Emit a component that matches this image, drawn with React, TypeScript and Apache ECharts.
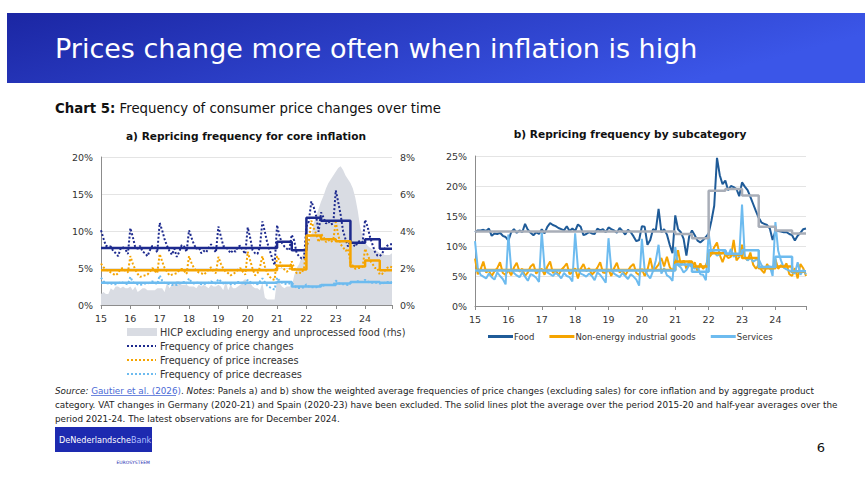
import React, { useEffect, useRef } from "react";
import * as echarts from "echarts";

// ---- shared time axis: monthly observations Jan 2015 .. Dec 2024 ----
const X_START = 15;
const X_END = 15 + 119 / 12;
const YEAR_TICKS = [15, 16, 17, 18, 19, 20, 21, 22, 23, 24];
// period starts for the average lines: 2015-20, then half-years 2021-24
const STEP_STARTS = [15, 21, 21.5, 22, 22.5, 23, 23.5, 24, 24.5];

// ---- panel a) frequencies for core inflation (%) ----
const priceChanges = [
  10.1, 9.0, 8.0, 7.9, 7.9, 7.3, 7.0, 6.6, 7.6, 7.8, 7.5, 6.9,
  10.4, 9.2, 7.8, 7.6, 8.0, 7.2, 7.0, 6.6, 7.4, 8.0, 7.8, 7.1,
  11.1, 10.1, 8.9, 8.0, 7.3, 6.8, 7.6, 6.5, 7.2, 8.1, 7.9, 7.2,
  10.1, 9.1, 8.2, 7.6, 7.8, 7.0, 7.3, 7.1, 7.7, 8.2, 7.6, 7.1,
  10.6, 9.3, 8.0, 7.8, 7.5, 7.0, 7.4, 7.2, 7.9, 8.0, 7.4, 6.9,
  10.5, 9.1, 7.4, 7.0, 6.9, 7.9, 11.3, 9.9, 8.4, 7.4, 6.3, 5.4,
  10.8, 9.3, 8.4, 7.9, 7.6, 7.4, 9.5, 8.7, 7.0, 6.6, 6.3, 6.3,
  10.6, 11.3, 14.0, 13.2, 12.0, 9.9, 12.5, 11.8, 11.0, 11.3, 10.9, 11.0,
  15.5, 13.9, 12.2, 10.0, 8.9, 7.9, 8.6, 8.2, 7.9, 8.5, 8.7, 8.5,
  11.5, 10.6, 9.2, 8.2, 7.2, 6.7, 6.6, 7.0, 7.6, 8.0, 8.2, 8.2,
];
const priceIncreases = [
  5.6, 5.1, 4.8, 4.6, 4.4, 4.2, 4.0, 4.3, 4.9, 5.0, 4.6, 4.4,
  6.6, 5.6, 4.8, 4.2, 3.8, 3.9, 4.0, 4.1, 4.5, 5.0, 4.6, 4.3,
  6.9, 5.9, 5.0, 4.5, 4.0, 4.1, 4.2, 4.3, 4.7, 4.9, 4.6, 4.2,
  6.6, 5.7, 5.0, 4.6, 4.4, 4.3, 4.1, 4.4, 4.8, 5.1, 4.6, 4.3,
  6.5, 5.6, 4.9, 4.5, 4.3, 4.0, 4.2, 4.4, 4.8, 5.0, 4.5, 4.1,
  7.2, 6.0, 4.9, 4.0, 4.3, 5.1, 6.6, 5.2, 4.3, 3.8, 3.5, 3.4,
  6.6, 6.0, 5.2, 4.8, 4.5, 4.7, 5.9, 5.0, 4.3, 4.4, 4.3, 4.9,
  7.8, 8.7, 11.4, 10.4, 9.6, 8.5, 9.6, 9.2, 8.5, 8.8, 8.5, 8.8,
  11.2, 9.5, 8.2, 7.8, 7.3, 7.6, 5.8, 5.3, 4.9, 5.0, 5.0, 5.2,
  7.6, 6.8, 6.0, 5.6, 5.0, 5.0, 4.1, 4.2, 4.6, 5.0, 5.2, 5.1,
];
const priceDecreases = [
  3.7, 3.2, 3.0, 2.9, 2.9, 2.8, 2.8, 2.9, 3.1, 3.0, 2.9, 2.8,
  3.8, 3.1, 2.9, 2.8, 2.7, 2.8, 2.9, 2.9, 3.0, 3.2, 3.0, 2.8,
  4.0, 3.3, 3.0, 2.9, 2.8, 2.7, 2.8, 2.7, 2.9, 3.0, 3.1, 2.9,
  3.6, 3.1, 2.9, 3.0, 3.0, 2.8, 2.9, 2.8, 3.0, 3.2, 3.0, 2.9,
  3.5, 3.2, 2.9, 3.0, 2.9, 2.8, 2.8, 2.9, 3.1, 3.1, 2.9, 2.8,
  3.4, 3.1, 2.9, 3.0, 2.8, 3.2, 3.6, 3.1, 2.6, 2.4, 2.2, 2.1,
  3.7, 3.3, 3.0, 2.9, 2.8, 2.9, 3.0, 2.7, 2.3, 2.3, 2.3, 2.4,
  2.8, 2.5, 2.4, 2.4, 2.4, 2.5, 2.8, 2.6, 2.7, 2.7, 2.7, 2.7,
  3.3, 3.0, 2.8, 2.8, 2.8, 2.7, 3.0, 3.1, 3.1, 3.2, 3.1, 3.1,
  3.4, 3.2, 3.0, 3.0, 3.0, 3.0, 2.9, 2.9, 3.0, 3.1, 3.0, 3.1,
];
// HICP excluding energy and unprocessed food, % y-o-y (right-hand scale)
const hicpCore = [
  0.6, 0.7, 0.6, 0.6, 0.9, 0.8, 1.0, 1.0, 0.9, 1.0, 0.9, 0.9,
  1.0, 0.8, 1.0, 0.7, 0.8, 0.9, 0.9, 0.8, 0.8, 0.8, 0.8, 0.9,
  0.9, 0.9, 0.7, 1.2, 0.9, 1.1, 1.2, 1.3, 1.3, 1.1, 1.1, 1.1,
  1.0, 1.0, 1.0, 0.9, 1.1, 1.0, 1.1, 1.0, 0.9, 1.1, 1.0, 1.0,
  1.1, 1.0, 0.8, 1.3, 0.8, 1.1, 0.9, 0.9, 1.0, 1.1, 1.3, 1.4,
  1.2, 1.2, 1.0, 0.9, 0.9, 0.8, 1.2, 0.4, 0.3, 0.3, 0.3, 0.3,
  1.4, 1.2, 1.0, 0.9, 1.0, 1.0, 1.0, 1.6, 2.0, 2.2, 2.6, 2.8,
  3.2, 3.5, 3.8, 4.4, 4.8, 5.2, 5.6, 5.9, 6.3, 6.6, 6.8, 7.0,
  7.2, 7.4, 7.5, 7.3, 7.0, 6.8, 6.6, 6.3, 5.8, 5.1, 4.2, 3.7,
  3.4, 3.2, 3.1, 3.0, 3.0, 2.9, 2.8, 2.8, 2.7, 2.7, 2.7, 2.8,
];
const avgChanges = [7.7, 8.55, 7.4, 11.8, 11.4, 11.4, 8.4, 8.9, 7.6];
const avgIncreases = [4.7, 5.3, 4.8, 9.4, 8.9, 8.6, 5.2, 6.0, 4.7];
const avgDecreases = [3.0, 3.1, 2.5, 2.5, 2.7, 2.9, 3.1, 3.1, 3.0];

// ---- panel b) frequencies by subcategory (%) ----
const food = [
  12.3, 12.6, 12.6, 12.7, 12.5, 12.9, 11.7, 12.1, 12.0, 12.2, 11.7, 11.5,
  10.9, 12.3, 12.8, 12.2, 12.6, 12.3, 13.7, 12.7, 12.2, 11.8, 12.3, 12.0,
  12.8, 12.1, 13.2, 13.8, 13.5, 13.3, 13.0, 12.8, 12.6, 13.3, 12.5, 12.9,
  12.5, 13.6, 13.2, 11.8, 12.0, 12.3, 12.1, 12.0, 12.9, 12.6, 12.8, 12.3,
  13.1, 12.8, 12.6, 12.2, 13.0, 12.5, 11.9, 12.7, 12.3, 11.6, 10.8, 11.0,
  13.3, 13.2, 10.2, 11.0, 12.8, 12.6, 16.2, 12.3, 12.8, 11.9, 10.2, 8.8,
  15.1, 12.8, 12.3, 11.2, 8.4, 11.6, 12.6, 11.8, 10.9, 10.6, 11.0, 11.5,
  12.1, 14.2, 16.7, 24.7, 21.8, 20.3, 20.9, 19.3, 20.0, 19.8, 19.5, 18.3,
  20.6, 19.9, 19.3, 18.2, 17.0, 15.8, 14.7, 13.9, 13.7, 13.5, 12.9, 11.0,
  12.5, 12.5, 12.4, 12.3, 12.3, 12.0, 11.8, 10.9, 11.7, 12.2, 12.8, 12.9,
];
const neig = [
  7.9, 5.3, 6.1, 7.4, 5.6, 5.9, 5.0, 5.8, 6.3, 7.3, 5.5, 5.2,
  6.0, 5.1, 6.4, 7.2, 5.7, 6.2, 5.0, 5.6, 6.6, 7.0, 5.4, 5.9,
  6.2, 5.2, 6.6, 7.4, 5.5, 6.0, 5.1, 6.0, 6.5, 7.1, 5.3, 5.6,
  6.3, 4.6, 6.2, 7.0, 5.8, 6.3, 5.2, 5.7, 6.4, 7.3, 5.6, 5.5,
  6.1, 5.0, 6.3, 7.2, 5.6, 6.0, 5.1, 5.9, 6.6, 7.0, 5.5, 5.2,
  6.2, 5.0, 6.0, 8.0, 5.8, 6.3, 6.9, 8.0, 6.6, 8.2, 6.5, 5.8,
  7.0, 9.3, 6.8, 7.6, 6.2, 7.5, 6.4, 7.3, 5.8, 7.1, 6.2, 6.8,
  8.0, 8.6, 9.8, 10.6, 8.5, 7.3, 8.6, 8.0, 8.2, 11.0, 7.6, 8.2,
  10.2, 8.2, 7.6, 8.9, 6.9, 6.2, 6.9, 6.0, 5.5, 7.0, 6.2, 6.2,
  7.8, 6.2, 6.8, 6.4, 7.1, 5.3, 5.0, 6.3, 4.6, 7.0, 6.3, 5.0,
];
const services = [
  10.8, 6.3, 5.2, 4.9, 4.6, 5.4, 4.8, 4.4, 5.6, 5.0, 4.5, 3.6,
  11.9, 6.2, 5.5, 5.1, 4.8, 5.6, 4.9, 4.2, 5.3, 5.1, 4.7, 4.0,
  12.4, 6.4, 5.6, 5.3, 5.0, 5.5, 5.2, 4.6, 5.5, 5.0, 4.8, 4.1,
  12.1, 6.3, 5.4, 5.2, 4.9, 5.4, 5.0, 4.3, 5.6, 5.2, 4.6, 3.9,
  11.3, 6.1, 5.4, 5.1, 4.8, 5.5, 5.0, 4.5, 5.3, 4.9, 4.4, 3.4,
  11.2, 6.0, 5.2, 4.6, 5.8, 7.6, 10.2, 5.4, 6.3, 5.1, 4.8, 4.2,
  9.8, 6.8, 6.4, 5.6, 6.0, 6.8, 6.6, 6.2, 6.6, 5.3, 5.2, 4.3,
  12.2, 8.7, 9.0, 8.4, 8.6, 8.9, 9.3, 8.4, 9.5, 8.2, 8.6, 8.2,
  16.9, 8.2, 7.6, 8.0, 7.4, 7.7, 7.8, 6.8, 6.2, 6.6, 6.6, 5.0,
  14.0, 9.2, 7.6, 6.4, 6.1, 5.9, 5.6, 5.4, 7.3, 5.2, 6.0, 5.3,
];
const avgFood = [12.4, 12.0, 11.3, 19.2, 19.5, 18.4, 13.2, 12.6, 12.1];
const avgNeig = [6.0, 7.4, 6.6, 8.8, 8.6, 8.0, 6.3, 6.6, 5.7];
const avgServices = [5.9, 6.9, 5.7, 9.3, 8.7, 9.3, 6.5, 8.2, 5.8];

// ---- colours & fonts ----
const NAVY = "#1d2a8e";
const ORANGE = "#f5a400";
const LIGHT_BLUE = "#6dbbef";
const FOOD_BLUE = "#1f5b98";
const STEP_GREY = "#a9aeb8";
const AREA_GREY = "#d9dce3";
const LINK_BLUE = "#4a6ad6";
const TEXT = "#333333";
const FONT = '"DejaVu Sans", Verdana, sans-serif';
const FONT_NARROW = '"DejaVu Sans Condensed", "DejaVu Sans", sans-serif';

const monthly = (vals: number[]) => vals.map((v, i) => [X_START + i / 12, v]);
const steps = (vals: number[]) => {
  const pts = STEP_STARTS.map((s, k) => [s, vals[k]]);
  pts.push([X_END, vals[vals.length - 1]]);
  return pts;
};

const yearLabel = (v: number) => (YEAR_TICKS.includes(Math.round(v * 1000) / 1000) ? String(v) : "");

const xAxisBase = (gridIndex: number) => ({
  type: "value" as const,
  gridIndex,
  min: X_START,
  max: X_END,
  interval: 1,
  axisLine: { show: true, onZero: false, lineStyle: { color: "#8c8c8c", width: 1 } },
  axisTick: { show: true, length: 4, lineStyle: { color: "#8c8c8c" } },
  axisLabel: { formatter: yearLabel, fontSize: 9.5, color: TEXT, fontFamily: FONT, margin: 8 },
  splitLine: { show: false },
});

const yAxisBase = (gridIndex: number, max: number, interval: number, position: "left" | "right", grid: boolean, line: boolean) => ({
  type: "value" as const,
  gridIndex,
  position,
  min: 0,
  max,
  interval,
  axisLine: { show: line, lineStyle: { color: "#8c8c8c", width: 1 } },
  axisTick: { show: false },
  axisLabel: { formatter: "{value}%", fontSize: 9.5, color: TEXT, fontFamily: FONT, margin: 8 },
  splitLine: { show: grid, lineStyle: { color: "#e4e4e4", width: 1 } },
});

const legendRowsA = [
  { label: "HICP excluding energy and unprocessed food (rhs)", color: AREA_GREY, kind: "bar" },
  { label: "Frequency of price changes", color: NAVY, kind: "dots" },
  { label: "Frequency of price increases", color: ORANGE, kind: "dots" },
  { label: "Frequency of price decreases", color: LIGHT_BLUE, kind: "dots" },
];

function buildLegendA() {
  const els: any[] = [];
  legendRowsA.forEach((row, k) => {
    const y = 332 + k * 14;
    if (row.kind === "bar") {
      els.push({ type: "rect", shape: { x: 127, y: y - 4, width: 30, height: 8 }, style: { fill: row.color } });
    } else {
      els.push({
        type: "line",
        shape: { x1: 127, y1: y, x2: 156, y2: y },
        style: { stroke: row.color, lineWidth: 2, lineDash: [2, 2] },
      });
    }
    els.push({
      type: "text",
      x: 160,
      y,
      style: { text: row.label, fill: TEXT, font: `9.7px ${FONT}`, verticalAlign: "middle" },
    });
  });
  return els;
}

const SOURCE_FONT = 8.8;

export default function App() {
  const ref = useRef<HTMLDivElement>(null);

  useEffect(() => {
    document.body.style.margin = "0";
    if (!ref.current) return;
    const chart = echarts.init(ref.current, null, { renderer: "svg" });

    const option: any = {
      animation: false,
      backgroundColor: "#ffffff",
      grid: [
        { left: 101, top: 157, width: 291, height: 148, containLabel: false },
        { left: 475, top: 156, width: 331, height: 150, containLabel: false },
      ],
      xAxis: [xAxisBase(0), xAxisBase(1)],
      yAxis: [
        yAxisBase(0, 20, 5, "left", true, true),
        yAxisBase(0, 8, 2, "right", false, false),
        yAxisBase(1, 25, 5, "left", true, true),
      ],
      legend: {
        data: ["Food", "Non-energy industrial goods", "Services"],
        left: 488,
        top: 332,
        itemWidth: 25,
        itemHeight: 3,
        itemGap: 15,
        icon: "rect",
        padding: 0,
        selectedMode: false,
        textStyle: { fontSize: 8.5, color: TEXT, fontFamily: FONT, padding: [0, 0, 0, -4] },
      },
      series: [
        // panel a)
        {
          name: "HICP excluding energy and unprocessed food (rhs)",
          type: "line",
          xAxisIndex: 0,
          yAxisIndex: 1,
          data: monthly(hicpCore),
          symbol: "none",
          silent: true,
          lineStyle: { width: 0 },
          areaStyle: { color: AREA_GREY, opacity: 1 },
          z: 1,
        },
        ...[
          { name: "Frequency of price changes", vals: priceChanges, color: NAVY },
          { name: "Frequency of price increases", vals: priceIncreases, color: ORANGE },
          { name: "Frequency of price decreases", vals: priceDecreases, color: LIGHT_BLUE },
        ].map((s) => ({
          name: s.name,
          type: "line",
          xAxisIndex: 0,
          yAxisIndex: 0,
          data: monthly(s.vals),
          symbol: "none",
          silent: true,
          lineStyle: { color: s.color, width: 2, type: [2, 2] },
          itemStyle: { color: s.color },
          z: 2,
        })),
        ...[
          { name: "Average price changes", vals: avgChanges, color: NAVY },
          { name: "Average price increases", vals: avgIncreases, color: ORANGE },
          { name: "Average price decreases", vals: avgDecreases, color: LIGHT_BLUE },
        ].map((s) => ({
          name: s.name,
          type: "line",
          xAxisIndex: 0,
          yAxisIndex: 0,
          step: "end",
          data: steps(s.vals),
          symbol: "none",
          silent: true,
          lineStyle: { color: s.color, width: 2.5 },
          itemStyle: { color: s.color },
          z: 3,
        })),
        // panel b)
        ...[
          { name: "Food", vals: food, color: FOOD_BLUE },
          { name: "Non-energy industrial goods", vals: neig, color: ORANGE },
          { name: "Services", vals: services, color: LIGHT_BLUE },
        ].map((s) => ({
          name: s.name,
          type: "line",
          xAxisIndex: 1,
          yAxisIndex: 2,
          data: monthly(s.vals),
          symbol: "none",
          silent: true,
          lineStyle: { color: s.color, width: 2 },
          itemStyle: { color: s.color },
          z: 2,
        })),
        ...[
          { name: "Food average", vals: avgFood, color: STEP_GREY },
          { name: "Non-energy industrial goods average", vals: avgNeig, color: ORANGE },
          { name: "Services average", vals: avgServices, color: LIGHT_BLUE },
        ].map((s) => ({
          name: s.name,
          type: "line",
          xAxisIndex: 1,
          yAxisIndex: 2,
          step: "end",
          data: steps(s.vals),
          symbol: "none",
          silent: true,
          lineStyle: { color: s.color, width: 2.5 },
          itemStyle: { color: s.color },
          z: 3,
        })),
      ],
      graphic: [
        {
          type: "rect",
          shape: { x: 7, y: 13, width: 858, height: 70 },
          style: {
            fill: {
              type: "linear",
              x: 0, y: 0, x2: 1, y2: 0.3,
              colorStops: [
                { offset: 0, color: "#1b26a3" },
                { offset: 1, color: "#3b56e8" },
              ],
            },
          },
          silent: true,
        },
        {
          type: "text",
          x: 55,
          y: 48,
          style: {
            text: "Prices change more often when inflation is high",
            fill: "#ffffff",
            font: `27px ${FONT}`,
            verticalAlign: "middle",
          },
        },
        {
          type: "text",
          x: 55,
          y: 108,
          style: {
            text: "{b|Chart 5:} Frequency of consumer price changes over time",
            font: `13.3px ${FONT}`,
            fill: "#111111",
            verticalAlign: "middle",
            rich: { b: { font: `bold 13.3px ${FONT}`, fill: "#111111" } },
          },
        },
        {
          type: "text",
          x: 246,
          y: 136,
          style: {
            text: "a) Repricing frequency for core inflation",
            font: `bold 10.6px ${FONT}`,
            fill: "#111111",
            align: "center",
            verticalAlign: "middle",
          },
        },
        {
          type: "text",
          x: 630,
          y: 134,
          style: {
            text: "b) Repricing frequency by subcategory",
            font: `bold 10.6px ${FONT}`,
            fill: "#111111",
            align: "center",
            verticalAlign: "middle",
          },
        },
        ...buildLegendA(),
        {
          type: "text",
          x: 55,
          y: 384,
          style: {
            text:
              "{i|Source:} {a|Gautier et al. (2026)}. {i|Notes}: Panels a) and b) show the weighted average frequencies of price changes (excluding sales) for core inflation and by aggregate product\n" +
              "category. VAT changes in Germany (2020-21) and Spain (2020-23) have been excluded. The solid lines plot the average over the period 2015-20 and half-year averages over the\n" +
              "period 2021-24. The latest observations are for December 2024.",
            font: `${SOURCE_FONT}px ${FONT}`,
            fill: "#222222",
            lineHeight: 14,
            rich: {
              i: { font: `italic ${SOURCE_FONT}px ${FONT}`, fill: "#222222", lineHeight: 14 },
              a: { font: `${SOURCE_FONT}px ${FONT}`, fill: LINK_BLUE, lineHeight: 14 },
            },
          },
        },
        // link underline
        {
          type: "line",
          shape: { x1: 91, y1: 395.5, x2: 176, y2: 395.5 },
          style: { stroke: LINK_BLUE, lineWidth: 0.8 },
          silent: true,
        },
        {
          type: "rect",
          shape: { x: 55, y: 427, width: 97, height: 25 },
          style: { fill: "#1d2ab0" },
        },
        {
          type: "text",
          x: 59,
          y: 440,
          style: {
            text: "DeNederlandsche{l|Bank}",
            font: `9px ${FONT_NARROW}`,
            fill: "#ffffff",
            verticalAlign: "middle",
            rich: { l: { font: `9px ${FONT_NARROW}`, fill: "#aebdff" } },
          },
        },
        {
          type: "text",
          x: 150,
          y: 462,
          style: {
            text: "EUROSYSTEEM",
            font: `4.5px ${FONT}`,
            fill: "#1d2ab0",
            align: "right",
            verticalAlign: "middle",
          },
        },
        {
          type: "text",
          x: 821,
          y: 447,
          style: { text: "6", font: `13px ${FONT}`, fill: "#111111", align: "center", verticalAlign: "middle" },
        },
      ],
    };

    chart.setOption(option);
    return () => chart.dispose();
  }, []);

  return <div ref={ref} style={{ width: 865, height: 490 }} />;
}
